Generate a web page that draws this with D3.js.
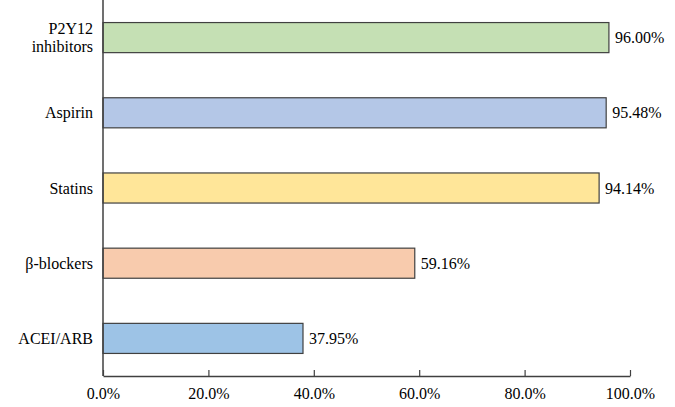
<!DOCTYPE html>
<html>
<head>
<meta charset="utf-8">
<script src="https://cdn.jsdelivr.net/npm/d3@7"></script>
<style>
  body { margin: 0; background: #fff; }
  text { font-family: "Liberation Serif", "Times New Roman", serif; fill: #000; }
</style>
</head>
<body>
<svg id="chart" width="675" height="407"></svg>
<script>
var categories = ["P2Y12\ninhibitors", "Aspirin", "Statins", "β-blockers", "ACEI/ARB"];
var values = [96.00, 95.48, 94.14, 59.16, 37.95];
var colors = ["#c5e0b4", "#b4c7e7", "#ffe699", "#f8cbad", "#9dc3e6"];
var ticks = [0, 20, 40, 60, 80, 100];

var svg = d3.select("#chart");
var x = d3.scaleLinear().domain([0, 100]).range([103, 630]);
var y = d3.scaleBand().domain(categories).range([0, 376]).paddingInner(0.6).paddingOuter(0.3);

// bars
svg.selectAll("rect.bar")
    .data(values)
    .enter()
    .append("rect")
    .attr("class", "bar")
    .attr("x", x(0))
    .attr("y", function(d, i) { return y(categories[i]); })
    .attr("width", function(d) { return x(d) - x(0); })
    .attr("height", y.bandwidth())
    .attr("fill", function(d, i) { return colors[i]; })
    .attr("stroke", "#404040")
    .attr("stroke-width", 1.2);

// value labels
svg.selectAll("text.val")
    .data(values)
    .enter()
    .append("text")
    .attr("class", "val")
    .attr("x", function(d) { return x(d) + 6; })
    .attr("y", function(d, i) { return y(categories[i]) + y.bandwidth() / 2; })
    .attr("dy", "0.35em")
    .attr("font-size", 16)
    .text(function(d) { return d.toFixed(2) + "%"; });

// category labels
svg.selectAll("text.cat")
    .data(categories)
    .enter()
    .append("text")
    .attr("class", "cat")
    .attr("text-anchor", "end")
    .attr("font-size", 16)
    .attr("x", x(0) - 10)
    .attr("y", function(d) { return y(d) + y.bandwidth() / 2; })
    .each(function(d) {
        var lines = d.split("\n");
        var t = d3.select(this);
        lines.forEach(function(l, i) {
            t.append("tspan")
                .attr("x", x(0) - 10)
                .attr("dy", i == 0 ? (0.35 - (lines.length - 1) * 0.55) + "em" : "1.1em")
                .text(l);
        });
    });

// x axis
var xAxis = d3.axisBottom(x).tickValues(ticks).tickSize(-6).tickSizeOuter(0)
    .tickFormat(function(d) { return d.toFixed(1) + "%"; });
var gx = svg.append("g").attr("transform", "translate(0,376)").call(xAxis);
gx.select(".domain").attr("stroke", "#404040").attr("stroke-width", 1.5);
gx.selectAll(".tick line").attr("stroke", "#404040").attr("stroke-width", 1.2);
gx.selectAll(".tick text").attr("font-size", 16).attr("y", 12)
    .style("font-family", "Liberation Serif, serif").attr("fill", "#000");

// y axis line
svg.append("line")
    .attr("x1", x(0)).attr("x2", x(0))
    .attr("y1", 0).attr("y2", 376)
    .attr("stroke", "#404040").attr("stroke-width", 1.5);
</script>
</body>
</html>
